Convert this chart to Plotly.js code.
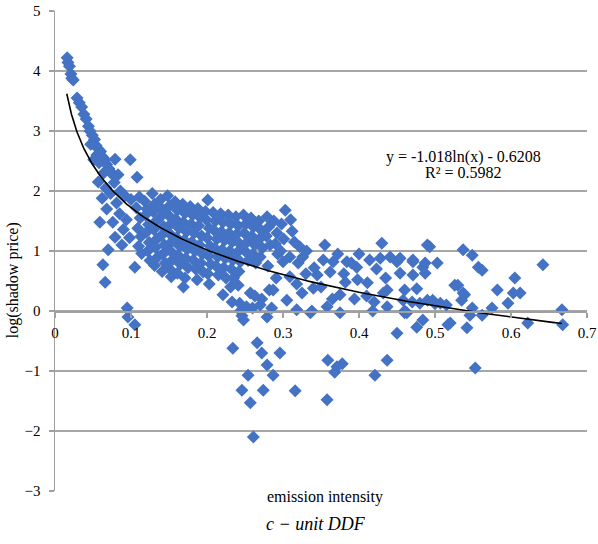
<!DOCTYPE html>
<html>
<head>
<meta charset="utf-8">
<script src="https://cdn.plot.ly/plotly-3.0.1.min.js"></script>
<style>html,body{margin:0;padding:0;background:#fff;}#chart{width:598px;height:544px;}</style>
</head>
<body>
<div id="chart"></div>
<script>
// emission intensity (x) and log(shadow price) (y)
const emissionIntensity = [
0.016,0.017,0.019,0.021,0.022,0.024,0.029,0.032,0.035,0.038,0.041,0.044,0.046,0.049,0.052,0.047,0.054,0.057,0.060,0.055,
0.062,0.066,0.051,0.058,0.068,0.071,0.073,0.064,0.076,0.079,0.099,0.083,0.108,0.057,0.078,0.086,0.062,0.073,0.092,0.100,
0.059,0.076,0.079,0.070,0.063,0.066,0.105,0.095,0.096,0.105,0.085,0.090,0.094,0.098,0.088,0.068,0.081,0.067,
0.107,0.111,0.112,0.109,0.113,0.110,0.114,0.118,0.121,0.119,0.123,0.120,0.124,0.122,0.125,0.128,0.131,0.129,0.133,0.130,
0.134,0.132,0.135,0.131,0.139,0.141,0.138,0.143,0.140,0.144,0.142,0.145,0.141,0.148,0.151,0.149,0.153,0.150,0.154,0.152,
0.155,0.151,0.153,0.158,0.161,0.159,0.163,0.160,0.164,0.162,0.165,0.161,0.168,0.171,0.169,0.173,0.170,0.174,0.172,0.175,
0.171,0.169,0.178,0.181,0.179,0.183,0.180,0.184,0.182,0.185,0.187,0.188,0.191,0.189,0.193,0.190,0.194,0.192,0.195,0.198,
0.201,0.199,0.203,0.200,0.204,0.202,0.205,0.201,0.203,0.208,0.211,0.209,0.213,0.210,0.214,0.212,0.215,0.218,0.221,0.219,
0.223,0.220,0.224,0.222,0.225,0.221,0.228,0.231,0.229,0.233,0.230,0.234,0.232,0.235,0.231,0.238,0.241,0.239,0.243,0.240,
0.244,0.242,0.241,0.248,0.251,0.249,0.253,0.250,0.254,0.257,0.252,0.258,0.261,0.259,0.263,0.260,0.264,0.268,0.271,0.269,
0.273,0.270,0.272,0.279,0.281,0.278,0.283,0.280,0.282,0.288,0.292,0.290,0.293,0.287,0.291,0.298,0.301,0.297,0.300,0.305,
0.310,0.312,0.315,0.309,0.309,
0.243,0.244,0.246,0.248,0.279,0.285,0.318,0.338,0.358,0.375,0.418,0.260,0.270,0.263,0.233,
0.234,0.266,0.272,0.296,0.279,0.287,0.254,0.246,0.274,0.257,0.261,0.316,0.359,0.371,0.378,0.368,0.358,0.421,0.437,0.450,
0.476,0.484,0.520,0.542,0.517,0.622,0.668,0.336,0.460,0.562,0.546,0.553,
0.303,0.322,0.326,0.331,0.355,0.430,0.490,0.353,0.366,0.384,0.397,0.414,0.428,0.450,0.471,0.484,0.340,0.375,0.382,0.398,
0.411,0.437,0.437,0.460,0.318,0.330,0.345,0.341,0.493,0.537,0.549,0.557,0.562,0.642,0.526,0.539,0.535,0.582,0.605,0.603,
0.612,0.596,0.575,0.549,0.667,0.487,0.503,0.487,0.497,0.480,0.441,0.454,0.471,0.454,0.471,0.530,0.537,0.432,0.458,0.490,
0.507,0.463,0.476,0.500,0.515,0.394,0.410,0.420,0.365,0.350,0.362,0.380,0.400,0.390,0.372,0.423,0.435,0.460,0.470,0.325,
0.320
];
const logShadowPrice = [
4.22,4.14,4.08,3.95,3.88,3.85,3.55,3.47,3.40,3.28,3.20,3.08,3.00,2.93,2.86,2.78,2.76,2.70,2.66,2.60,
2.57,2.52,2.52,2.47,2.44,2.37,2.32,2.30,2.27,2.53,2.52,2.27,2.23,2.15,2.14,2.00,1.88,1.96,1.92,1.86,
1.48,1.48,1.23,1.02,0.77,0.48,0.73,0.05,-0.10,-0.23,1.62,1.36,1.52,1.22,1.10,1.70,1.80,2.05,
1.72,1.90,1.55,1.38,1.24,1.08,0.96,1.83,1.70,1.60,1.44,1.31,1.14,1.00,0.84,1.96,1.78,1.66,1.50,1.36,
1.20,1.06,0.90,0.76,1.86,1.70,1.56,1.41,1.26,1.10,0.95,0.80,0.66,1.92,1.76,1.60,1.46,1.30,1.16,1.00,
0.86,0.70,0.57,1.82,1.68,1.53,1.38,1.22,1.08,0.93,0.78,0.63,1.78,1.63,1.48,1.32,1.18,1.03,0.88,0.72,
0.55,0.40,1.74,1.60,1.45,1.30,1.15,1.00,0.85,0.70,0.52,1.71,1.56,1.42,1.25,1.10,0.95,0.80,0.65,1.66,
1.85,1.52,1.38,1.22,1.08,0.92,0.78,0.62,0.45,1.64,1.50,1.35,1.20,1.05,0.90,0.75,0.60,1.62,1.48,1.32,
1.18,1.02,0.88,0.72,0.55,0.27,1.60,1.45,1.30,1.15,1.00,0.85,0.70,0.55,0.40,1.57,1.42,1.28,1.12,0.98,
0.82,0.66,0.43,1.60,1.45,1.30,1.15,1.00,0.84,0.30,0.07,1.55,1.40,1.25,1.10,0.95,0.80,1.50,1.35,1.20,
1.05,0.90,0.20,1.57,1.40,1.25,1.10,0.75,0.35,1.50,1.30,1.12,0.95,0.35,0.55,1.45,1.20,1.00,0.82,0.18,
1.52,1.33,1.15,0.90,0.57,
0.13,0.00,-0.08,-0.15,-0.10,0.05,0.02,0.00,0.07,-0.03,0.00,0.05,0.10,0.25,0.15,
-0.62,-0.53,-0.70,-0.70,-0.90,-1.07,-1.07,-1.32,-1.32,-1.53,-2.10,-1.33,-0.82,-0.93,-0.88,-1.02,-1.48,-1.07,-0.82,-0.37,
-0.27,-0.15,-0.20,-0.28,-0.23,-0.20,-0.23,-0.03,-0.03,-0.07,-0.07,-0.95,
1.68,1.07,0.90,1.00,1.10,1.13,1.10,0.85,0.82,0.82,0.73,0.85,0.88,0.82,0.85,0.73,0.38,0.27,0.48,0.52,
0.47,0.35,0.07,0.00,0.45,0.62,0.60,0.72,1.07,1.02,0.93,0.73,0.68,0.77,0.43,0.27,0.18,0.35,0.55,0.30,
0.30,0.13,0.05,0.05,0.02,0.80,0.80,0.63,0.18,0.13,0.90,0.88,0.82,0.63,0.60,0.43,0.30,0.30,0.18,0.18,
0.13,-0.03,0.37,0.12,0.10,0.20,0.25,0.15,0.20,0.40,0.65,0.62,0.95,0.80,0.95,0.70,0.55,0.35,0.15,0.30,
0.80
];
// logarithmic trend line shown on the chart: y = a ln(x) + b
const trendA = -1.018, trendB = -0.6208;
const trendXMin = 0.0155, trendXMax = 0.667;
const xTickVals = [0,0.1,0.2,0.3,0.4,0.5,0.6,0.7];
const xTickText = ['0','0.1','0.2','0.3','0.4','0.5','0.6','0.7'];
const yTickVals = [-3,-2,-1,0,1,2,3,4,5];

const trendX = [], trendY = [];
for (let i = 0; i <= 200; i++) {
  const x = trendXMin * Math.pow(trendXMax / trendXMin, i / 200);
  trendX.push(x);
  trendY.push(trendA * Math.log(x) + trendB);
}

const serif = '"Liberation Serif", "Times New Roman", serif';
const data = [
  {x: emissionIntensity, y: logShadowPrice, type: 'scatter', mode: 'markers',
   marker: {symbol: 'diamond', size: 10, color: '#4472C4', line: {width: 0}},
   hoverinfo: 'x+y'},
  {x: trendX, y: trendY, type: 'scatter', mode: 'lines',
   line: {color: '#000000', width: 1.6}, hoverinfo: 'skip'}
];
const layout = {
  width: 598, height: 544,
  margin: {l: 55, r: 11, t: 11, b: 53},
  paper_bgcolor: '#ffffff', plot_bgcolor: '#ffffff',
  showlegend: false,
  font: {family: serif, size: 15, color: '#000'},
  xaxis: {range: [0, 0.7], tickvals: xTickVals, ticktext: xTickText,
    anchor: 'free', position: 0.375, showgrid: false, zeroline: false,
    showline: true, linecolor: '#a0a0a0', linewidth: 1.5,
    ticks: 'outside', ticklen: 5, tickcolor: '#a0a0a0', tickwidth: 1.5,
    ticklabelstandoff: 2,
    tickfont: {family: serif, size: 15, color: '#000'}},
  yaxis: {range: [-3, 5], tickvals: yTickVals, showgrid: true, gridcolor: '#a6a6a6', gridwidth: 1.5,
    zeroline: false, showline: true, linecolor: '#a0a0a0', linewidth: 1.5,
    ticks: 'outside', ticklen: 5, tickcolor: '#a0a0a0', tickwidth: 1.5,
    ticklabelstandoff: 5,
    tickfont: {family: serif, size: 15, color: '#000'}},
  annotations: [
    {text: 'y = -1.018ln(x) - 0.6208', xref: 'paper', yref: 'paper', x: 0.767, y: 0.696,
     showarrow: false, xanchor: 'center', yanchor: 'middle', font: {family: serif, size: 16, color: '#000'}},
    {text: 'R² = 0.5982', xref: 'paper', yref: 'paper', x: 0.767, y: 0.664,
     showarrow: false, xanchor: 'center', yanchor: 'middle', font: {family: serif, size: 16, color: '#000'}},
    {text: 'log(shadow price)', xref: 'paper', yref: 'paper', x: -0.08, y: 0.44,
     textangle: -90, showarrow: false, xanchor: 'center', yanchor: 'middle', font: {family: serif, size: 16, color: '#000'}},
    {text: 'emission intensity', xref: 'paper', yref: 'paper', x: 0.508, y: -0.013,
     showarrow: false, xanchor: 'center', yanchor: 'middle', font: {family: serif, size: 16, color: '#000'}},
    {text: '<i>c − unit DDF</i>', xref: 'paper', yref: 'paper', x: 0.49, y: -0.068,
     showarrow: false, xanchor: 'center', yanchor: 'middle', font: {family: serif, size: 18, color: '#000'}}
  ]
};
Plotly.newPlot('chart', data, layout, {displayModeBar: false, staticPlot: true});
</script>
</body>
</html>
